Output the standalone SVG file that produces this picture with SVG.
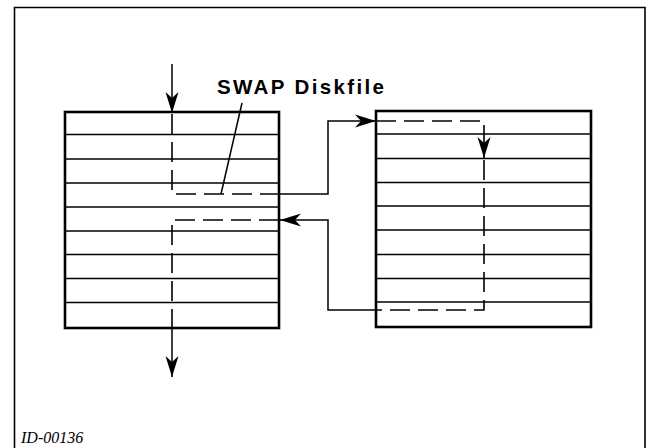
<svg xmlns="http://www.w3.org/2000/svg" width="651" height="448" viewBox="0 0 651 448">
  <style>
    .box { fill: #ffffff; stroke: #000; stroke-width: 2.6; }
    .row { stroke: #000; stroke-width: 1.5; fill: none; }
    .solid { fill: none; stroke: #000; stroke-width: 1.5; }
    .dash { fill: none; stroke: #000; stroke-width: 1.6; stroke-dasharray: 20 8; }
    .frame { fill: none; stroke: #000; stroke-width: 1.6; }
    .label { font-family: "Liberation Sans", Arial, sans-serif; font-weight: bold; font-size: 20.5px; fill: #000; }
    .caption { font-family: "Liberation Serif", "Times New Roman", serif; font-style: italic; font-size: 16px; fill: #000; }
  </style>
  <defs>
    <marker id="arrow" markerUnits="userSpaceOnUse" markerWidth="24" markerHeight="14" refX="21" refY="7" orient="auto" overflow="visible">
      <path d="M0,0.5 L21,7 L0,13.5 L6,7 Z" fill="#000"/>
    </marker>
  </defs>

  <rect width="651" height="448" fill="#ffffff"/>
  <path class="frame" d="M14.5,449 V7.5 H645 V449"/>

  <g id="left-file">
    <rect class="box" x="65" y="112" width="214" height="216"/>
    <path class="row" d="M65,134.5 H279 M65,159 H279 M65,183 H279 M65,207 H279 M65,231 H279 M65,254.5 H279 M65,278.5 H279 M65,302.5 H279"/>
  </g>

  <g id="swap-diskfile">
    <rect class="box" x="376" y="111" width="215" height="216"/>
    <path class="row" d="M376,134 H591 M376,158.5 H591 M376,182.5 H591 M376,206 H591 M376,230 H591 M376,254.5 H591 M376,278.5 H591 M376,302 H591"/>
  </g>

  <g id="label">
    <text class="label" x="217" y="94" textLength="167" lengthAdjust="spacing">SWAP Diskfile</text>
    <path class="solid" d="M242,103 L221,194"/>
  </g>

  <g id="connectors">
    <path class="solid" d="M172,64 V113" marker-end="url(#arrow)"/>
    <path class="dash" d="M172,114 V194 H279"/>
    <path class="solid" d="M279,194 H328 V121 H376" marker-end="url(#arrow)"/>
    <path class="dash" d="M376,121 H484 V158" marker-end="url(#arrow)"/>
    <path class="dash" d="M484,160 V310 H376"/>
    <path class="solid" d="M376,310 H328 V220 H280" marker-end="url(#arrow)"/>
    <path class="dash" d="M279,220 H172 V328"/>
    <path class="solid" d="M172,328 V377" marker-end="url(#arrow)"/>
  </g>

  <g id="caption">
    <text class="caption" x="21" y="443">ID-00136</text>
  </g>
</svg>
